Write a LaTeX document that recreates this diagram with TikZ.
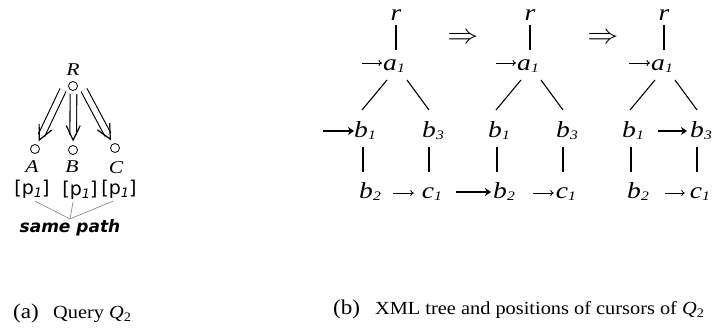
\documentclass[tikz,border=0pt]{standalone}
\usepackage{fontspec}
\setmainfont{Liberation Serif}
\newfontfamily\treefont[FakeStretch=1.2]{Liberation Serif}
\newfontfamily\capfont[FakeStretch=1.1]{Liberation Serif}
\newfontfamily\sansf{DejaVu Sans}
\usetikzlibrary{arrows.meta,calc}
\newcommand{\tsub}[1]{\raisebox{-2pt}{\fontsize{13}{13}\selectfont #1}}
\newcommand{\psub}[1]{\raisebox{-3pt}{\fontsize{13}{13}\selectfont\itshape #1}}
\newcommand{\xmltree}[2]{%
  \begin{scope}[xshift=#1]
    \node[tn] (r#2) at (396,20) {r};
    \node[tn] (a#2) at (394,70) {a\tsub{1}};
    \node[tn] (bA#2) at (365,137) {b\tsub{1}};
    \node[tn] (bC#2) at (433,137) {b\tsub{3}};
    \node[tn] (bB#2) at (370,198) {b\tsub{2}};
    \node[tn] (c#2) at (432,198) {c\tsub{1}};
    \draw[edge] ($(r#2.base)+(0,5)$) -- ($(a#2.base)+(2,-20)$);
    \draw[edge] ($(a#2.base)+(-7,10)$) -- ($(bA#2.base)+(-3,-27)$);
    \draw[edge] ($(a#2.base)+(13,10)$) -- ($(bC#2.base)+(-4,-27)$);
    \draw[edge] ($(bA#2.base)+(-2,10)$) -- ($(bB#2.base)+(-7,-26)$);
    \draw[edge] ($(bC#2.base)+(-4,10)$) -- ($(c#2.base)+(-3,-26)$);
  \end{scope}}
\newcommand{\dblarrow}[2]{%
  \draw[line width=1.1pt, double distance=5.5pt, shorten >=5pt] (#1) -- ($(#2)!10pt!(#1)$);
  \draw[line width=1.2pt, line join=miter] ($($(#2)!10pt!(#1)$)!16pt!26:(#1)$) -- ($(#2)!10pt!(#1)$) -- ($($(#2)!10pt!(#1)$)!16pt!-26:(#1)$);}
\begin{document}
\begin{tikzpicture}[x=1pt,y=-1pt,
  tn/.style={font=\treefont\itshape\fontsize{23}{23}\selectfont, inner sep=0pt, anchor=base},
  ql/.style={font=\treefont\itshape\fontsize{18}{18}\selectfont, inner sep=0pt, anchor=base},
  pl/.style={font=\sansf\fontsize{19}{19}\selectfont, inner sep=0pt, anchor=base},
  qc/.style={circle, draw, line width=0.8pt, minimum size=9pt, inner sep=0pt},
  edge/.style={line width=1.1pt},
  thincur/.style={line width=0.9pt, -{To[length=3.5pt,width=6pt]}},
  thickcur/.style={line width=1.9pt, -{Stealth[length=6pt,width=8pt,inset=2pt]}},
  capl/.style={inner sep=0pt, anchor=base west},
]
\fill[white] (0,0) rectangle (712,327);
\useasboundingbox (0,0) rectangle (712,327);

% ---- (a) query tree
\node[ql] (Rl) at (73,75) {R};
\node[qc] (R) at (73,86) {};
\node[qc] (A) at (35,149) {};
\node[qc] (B) at (73,150) {};
\node[qc] (C) at (115,148) {};
\node[ql] (Al) at (32,172) {A};
\node[ql] (Bl) at (72,172) {B};
\node[ql] (Cl) at (116,173) {C};
\node[pl] (pa) at (32,194) {[p\psub{1}]};
\node[pl] (pb) at (80,195) {[p\psub{1}]};
\node[pl] (pc) at (119,194) {[p\psub{1}]};
\node[inner sep=0pt, anchor=base, font=\sansf\bfseries\itshape\fontsize{17}{17}\selectfont] (sp) at (70,232) {same path};
\coordinate (s1) at (63,90);
\coordinate (s2) at (73.5,94);
\coordinate (s3) at (84,90);
\dblarrow{s1}{A}
\dblarrow{s2}{B}
\dblarrow{s3}{C}
\draw[gray, line width=0.6pt] ($(pa.south)+(3,3)$) -- (sp.north);
\draw[gray, line width=0.6pt] ($(pb.south)+(-7,3)$) -- (sp.north);
\draw[gray, line width=0.6pt] ($(pc.south)+(-6,3)$) -- (sp.north);

% ---- (b) XML trees
\xmltree{0pt}{i}
\xmltree{134pt}{ii}
\xmltree{268pt}{iii}
\node[inner sep=0pt, font=\fontsize{24.88}{24.88}\selectfont] (imp1) at (463,38) {\scalebox{1.25}[1.1]{$\Rightarrow$}};
\node[inner sep=0pt, font=\fontsize{24.88}{24.88}\selectfont] (imp2) at (603,38) {\scalebox{1.25}[1.1]{$\Rightarrow$}};

% cursors tree 1
\draw[thincur] ($(ai.base west)+(-21,-7)$) -- ($(ai.base west)+(-1,-7)$);
\draw[thickcur] ($(bAi.base west)+(-31,-6)$) -- ($(bAi.base west)+(0,-6)$);
\draw[thincur] ($(ci.base west)+(-29,-5)$) -- ($(ci.base west)+(-8,-5)$);
% cursors tree 2
\draw[thincur] ($(aii.base west)+(-21,-7)$) -- ($(aii.base west)+(-1,-7)$);
\draw[thickcur] ($(bBii.base west)+(-37,-6)$) -- ($(bBii.base west)+(-2,-6)$);
\draw[thincur] ($(cii.base west)+(-23,-5)$) -- ($(cii.base west)+(-2,-5)$);
% cursors tree 3
\draw[thincur] ($(aiii.base west)+(-22,-7)$) -- ($(aiii.base west)+(-1,-7)$);
\draw[thickcur] ($(bCiii.base west)+(-32,-6)$) -- ($(bCiii.base west)+(-3,-6)$);
\draw[thincur] ($(ciii.base west)+(-25,-5)$) -- ($(ciii.base west)+(-5,-5)$);

% ---- captions
\node[capl, font=\capfont\fontsize{21}{21}\selectfont] (capa) at (13,318) {(a)};
\node[capl, font=\capfont\fontsize{18.5}{18.5}\selectfont] (capaq) at (53,318) {Query \textit{Q}\raisebox{-3pt}{\fontsize{13}{13}\selectfont 2}};
\node[capl, font=\capfont\fontsize{21}{21}\selectfont] (capb) at (333,314) {(b)};
\node[capl, font=\capfont\fontsize{18.5}{18.5}\selectfont] (capbt) at (375,314) {XML tree and positions of cursors of \textit{Q}\raisebox{-3pt}{\fontsize{13}{13}\selectfont 2}};
\end{tikzpicture}
\end{document}
